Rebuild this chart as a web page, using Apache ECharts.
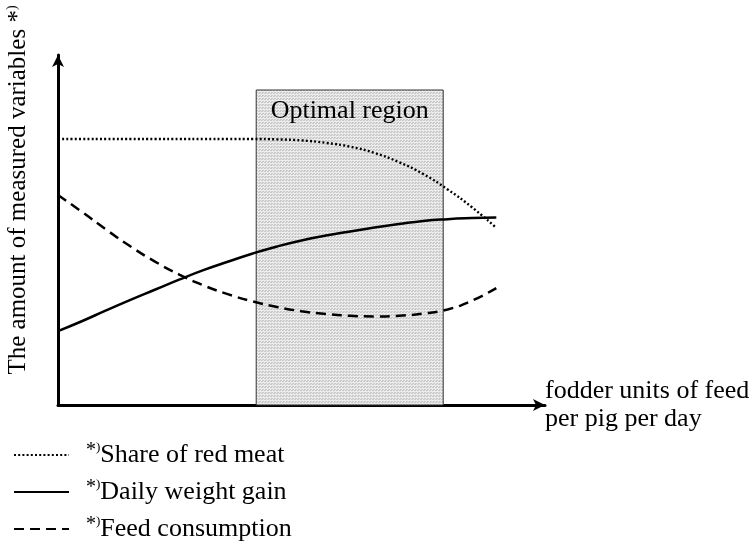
<!DOCTYPE html>
<html>
<head>
<meta charset="utf-8">
<style>
  html, body { margin: 0; padding: 0; background: #fff; }
  #chart { width: 756px; height: 553px; }
</style>
<script src="https://cdn.jsdelivr.net/npm/echarts@6/dist/echarts.min.js"></script>
</head>
<body>
<div id="chart"></div>
<script>
  // feed level (schematic, 0..100 along the x axis)
  var feedLevel = [0, 5, 10, 15, 20, 25, 30, 35, 40, 45, 50, 55, 60, 65, 70, 75, 80, 85, 90];
  // values, 0..100 along the y axis
  var redMeat    = [76, 76, 76, 76, 76, 76, 76, 76, 76, 75.9, 75.6, 74.9, 73.8, 72.0, 69.4, 66.0, 61.6, 56.5, 50.6];
  var weightGain = [21.1, 24.0, 27.1, 30.1, 33.0, 35.9, 38.6, 41.0, 43.3, 45.3, 47.0, 48.4, 49.6, 50.7, 51.7, 52.6, 53.1, 53.4, 53.6];
  var feedUse    = [60.0, 55.1, 50.0, 45.2, 40.9, 37.2, 34.1, 31.6, 29.6, 28.0, 26.8, 26.0, 25.5, 25.3, 25.5, 26.1, 27.3, 29.8, 33.4];
  var seriesNames = ['Share of red meat', 'Daily weight gain', 'Feed consumption'];
  var optimalRegion = [40.7, 79.1];   // from / to on x
  var optimalTop = 90;

  var font = '"Liberation Serif", "Times New Roman", serif';

  // grey dotted fill like the original shading
  var pat = document.createElement('canvas');
  pat.width = 3; pat.height = 3;
  var pc = pat.getContext('2d');
  pc.fillStyle = '#ececec'; pc.fillRect(0, 0, 3, 3);
  pc.fillStyle = '#c9c9c9'; pc.fillRect(0, 0, 2, 1); pc.fillRect(1, 2, 2, 1);

  function pairs(vals) {
    return feedLevel.map(function (x, i) { return [x, vals[i]]; });
  }

  var myChart = echarts.init(document.getElementById('chart'));
  var option = {
    animation: false,
    grid: { left: 58, top: 55, width: 487, height: 350 },
    xAxis: {
      type: 'value', min: 0, max: 100,
      splitLine: { show: false }, axisTick: { show: false }, axisLabel: { show: false },
      axisLine: { show: true, symbol: ['none', 'arrow'], symbolSize: [9, 12], lineStyle: { color: '#000', width: 3 } },
      name: 'fodder units of feed\nper pig per day',
      nameLocation: 'end',
      nameGap: 0,
      nameTextStyle: { fontFamily: font, fontSize: 26, color: '#000', lineHeight: 28, align: 'left' }
    },
    yAxis: {
      type: 'value', min: 0, max: 100,
      splitLine: { show: false }, axisTick: { show: false }, axisLabel: { show: false },
      axisLine: { show: true, symbol: ['none', 'arrow'], symbolSize: [9, 12], lineStyle: { color: '#000', width: 3 } }
    },
    legend: {
      data: seriesNames,
      orient: 'vertical',
      left: 8, top: 436,
      itemWidth: 55, itemHeight: 14, itemGap: 10,
      itemStyle: { opacity: 0 },
      formatter: function (name) { return '{s|*}{p|)}{t|' + name + '}'; },
      textStyle: {
        color: '#000',
        rich: {
          s: { fontFamily: font, fontSize: 20, color: '#000', padding: [0, 0, 0, 12], verticalAlign: 'top', lineHeight: 28 },
          p: { fontFamily: font, fontSize: 13, color: '#000', verticalAlign: 'top', lineHeight: 28 },
          t: { fontFamily: font, fontSize: 26, color: '#000', lineHeight: 28 }
        }
      }
    },
    graphic: [{
      type: 'text',
      x: 18, y: 190,
      rotation: Math.PI / 2,
      style: {
        text: 'The amount of measured variables *{p|)}',
        font: '25px ' + font,
        fill: '#000',
        align: 'center',
        verticalAlign: 'middle',
        rich: { p: { fontSize: 14, fontFamily: font, fill: '#000', verticalAlign: 'top' } }
      }
    }],
    series: [
      {
        name: 'optimal', type: 'line', data: [], z: 1,
        markArea: {
          silent: true,
          itemStyle: { color: { image: pat, repeat: 'repeat' }, borderColor: '#333', borderWidth: 1 },
          label: { show: true, position: 'insideTop', distance: 9, fontFamily: font, fontSize: 26, color: '#000' },
          data: [[{ name: 'Optimal region', xAxis: optimalRegion[0], yAxis: 0 }, { xAxis: optimalRegion[1], yAxis: optimalTop }]]
        }
      },
      {
        name: seriesNames[0], type: 'line', data: pairs(redMeat), z: 3,
        symbol: 'none', smooth: 0.5, itemStyle: { color: '#000' },
        lineStyle: { color: '#000', width: 2.4, type: [2, 2.2] }
      },
      {
        name: seriesNames[1], type: 'line', data: pairs(weightGain), z: 3,
        symbol: 'none', smooth: 0.5, itemStyle: { color: '#000' },
        lineStyle: { color: '#000', width: 2.5, type: 'solid' }
      },
      {
        name: seriesNames[2], type: 'line', data: pairs(feedUse), z: 3,
        symbol: 'none', smooth: 0.5, itemStyle: { color: '#000' },
        lineStyle: { color: '#000', width: 2.5, type: [10, 6] }
      }
    ]
  };
  myChart.setOption(option);
</script>
</body>
</html>
